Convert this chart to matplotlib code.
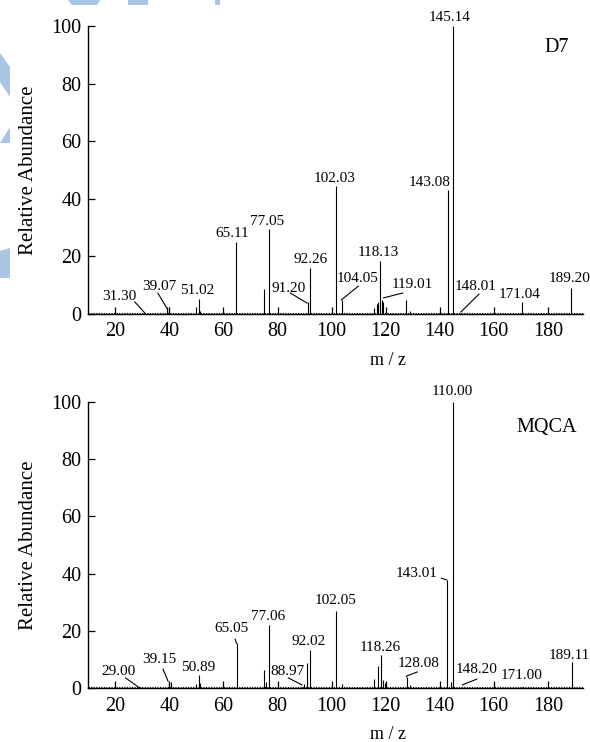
import matplotlib
matplotlib.use("Agg")
import matplotlib.pyplot as plt
from matplotlib.patches import Polygon

plt.rcParams['font.family'] = ['Liberation Serif', 'DejaVu Serif']

# D7 spectrum (m/z, relative abundance)
d7_mz = [31.0, 39.0, 40.0, 49.7, 50.8, 51.2, 64.8, 75.0, 77.0, 91.1, 92.1,
         101.8, 103.7, 115.6, 116.6, 117.2, 117.9, 118.6, 119.1, 127.6, 129.0,
         142.9, 144.8, 147.8, 170.6, 188.6]
d7_int = [0.5, 2.5, 2.5, 2.5, 5.1, 1.2, 24.9, 8.6, 29.5, 4.3, 15.9,
          44.4, 4.9, 2.0, 3.6, 4.0, 18.4, 5.0, 4.0, 5.0, 1.0,
          43.1, 100, 0.5, 4.3, 9.1]

# MQCA spectrum
mq_mz = [29.0, 39.8, 40.4, 49.9, 50.8, 51.2, 65.0, 75.0, 75.7, 77.0, 89.0,
         89.9, 90.9, 91.9, 101.8, 103.7, 115.8, 117.2, 118.1, 119.1, 119.7,
         127.7, 129.0, 142.6, 144.2, 145.0, 148.4, 170.5, 189.0]
mq_int = [0.4, 2.3, 2.3, 1.5, 4.6, 2.0, 15.7, 6.4, 2.3, 22.1, 0.5,
          1.5, 8.7, 13.4, 27.1, 1.5, 3.2, 7.8, 11.6, 2.9, 2.0,
          4.0, 1.0, 37.8, 2.3, 100, 0.4, 0.5, 9.3]

# peak labels: text, text x, text y, leader line (list of points) or None
d7_labels = [
    ("31.30", 21.6, 6.25, [(27.2, 4.2), (30.9, 0.35)]),
    ("39.07", 36.1, 9.4, [(35.7, 7.3), (39.0, 2.1)]),
    ("51.02", 50.2, 8.0, None),
    ("65.11", 63.2, 27.8, None),
    ("77.05", 76.2, 32.3, None),
    ("91.20", 84.2, 9.0, [(84.7, 7.3), (90.9, 3.8)]),
    ("92.26", 92.1, 19.1, None),
    ("102.03", 101.0, 47.2, None),
    ("104.05", 109.5, 12.5, [(109.9, 9.7), (103.6, 4.9)]),
    ("118.13", 117.4, 21.5, None),
    ("119.01", 130.0, 10.1, [(126.3, 7.3), (119.2, 5.6)]),
    ("143.08", 136.3, 45.8, None),
    ("145.14", 143.7, 103.1, None),
    ("148.01", 153.4, 9.4, [(154.5, 6.9), (147.8, 0.7)]),
    ("171.04", 169.7, 6.9, None),
    ("189.20", 187.9, 12.2, None),
]
mq_labels = [
    ("29.00", 21.2, 6.0, [(23.8, 3.6), (29.0, 0.1)]),
    ("39.15", 36.4, 10.2, [(37.6, 6.7), (39.5, 2.5)]),
    ("50.89", 50.5, 7.4, None),
    ("65.05", 62.8, 20.7, [(64.3, 17.1), (64.8, 15.7)]),
    ("77.06", 76.5, 24.9, None),
    ("88.97", 83.8, 6.0, [(84.0, 3.6), (89.0, 1.2)]),
    ("92.02", 91.5, 16.2, None),
    ("102.05", 101.6, 30.5, None),
    ("118.26", 118.1, 14.4, None),
    ("128.08", 132.2, 8.5, [(131.7, 5.7), (127.8, 4.3), (127.7, 4.0)]),
    ("143.01", 131.5, 39.9, [(140.6, 38.4), (142.6, 37.8)]),
    ("110.00", 144.8, 103.5, None),
    ("148.20", 153.8, 6.4, [(153.7, 3.2), (148.4, 1.2)]),
    ("171.00", 170.1, 4.3, None),
    ("189.11", 187.9, 11.6, None),
]

fig = plt.figure(figsize=(5.9, 7.42), dpi=100)

# faint watermark shapes (figure pixels, origin top-left)
W, H = 590, 742
wm = [
    [(68, 0), (100, 0), (97, 5), (72, 5)],
    [(128, 0), (148, 0), (148, 5), (128, 5)],
    [(215, 0), (220, 0), (220, 5), (215, 5)],
    [(0, 53), (10, 67), (10, 97), (0, 82)],
    [(10, 127), (10, 143), (0, 143)],
    [(0, 251), (10, 248), (10, 278), (0, 278)],
]
for shp in wm:
    fig.patches.append(Polygon([(x / W, 1 - y / H) for x, y in shp], closed=True,
                               transform=fig.transFigure, facecolor='#a9c4e4',
                               edgecolor='none', zorder=0))


def draw(ax, mz, inten, labels, name, name_xy):
    ax.vlines(mz, 0, inten, color='k', lw=0.8)
    ax.axhline(0.5, color='k', lw=0.8, ls=(0, (1, 1.3)))
    ax.set_xlim(10, 193)
    ax.set_ylim(0, 100)
    ax.set_xticks([20, 40, 60, 80, 100, 120, 140, 160, 180])
    ax.set_yticks([0, 20, 40, 60, 80, 100])
    ax.tick_params(direction='in', length=5, width=0.9, labelsize=14.5, pad=6)
    ax.tick_params(axis='y', pad=5)
    for s in ['top', 'right']:
        ax.spines[s].set_visible(False)
    for s in ['left', 'bottom']:
        ax.spines[s].set_linewidth(1.0)
    ax.set_xlabel("m / z", fontsize=13)
    ax.xaxis.set_label_coords(0.605, -0.133)
    ax.set_ylabel("Relative Abundance", fontsize=15)
    ax.yaxis.set_label_coords(-0.102, 0.5)
    for txt, tx, ty, lead in labels:
        ax.text(tx, ty, txt, ha='center', va='center', fontsize=11, clip_on=False)
        if lead:
            ax.plot([p[0] for p in lead], [p[1] for p in lead], color='k',
                    lw=0.8, clip_on=False)
    ax.text(name_xy[0], name_xy[1], name, ha='center', va='center', fontsize=14.5)


ax1 = fig.add_axes([0.1497, 0.5768, 0.8385, 0.3881])
draw(ax1, d7_mz, d7_int, d7_labels, "D7", (183.1, 92.4))

ax2 = fig.add_axes([0.1497, 0.0724, 0.8385, 0.3862])
draw(ax2, mq_mz, mq_int, mq_labels, "MQCA", (179.7, 90.9))

fig.savefig("out.png", dpi=100)
